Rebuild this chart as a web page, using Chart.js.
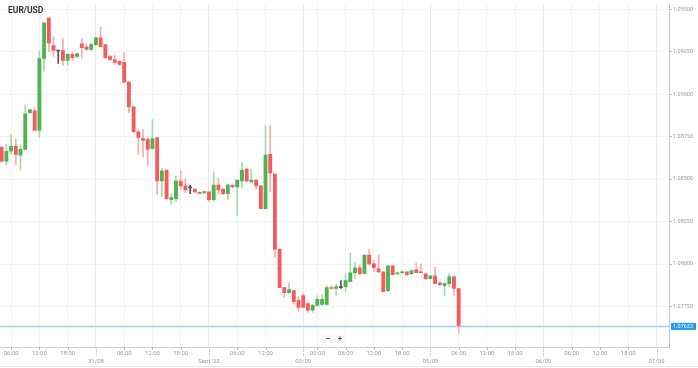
<!DOCTYPE html>
<html><head><meta charset="utf-8">
<script src="https://cdn.jsdelivr.net/npm/chart.js@4.4.0/dist/chart.umd.min.js"></script>
<style>html,body{margin:0;padding:0;background:#fff}#wrap{width:698px;height:368px;position:relative}</style>
</head><body><div id="wrap"><canvas id="c"></canvas></div>
<script>
const title = 'EUR/USD';
// trading sessions: [day, first hour, last hour] (hourly candles, weekend removed)
const sessions = [['30/08',4,23],['31/08',0,23],['01/09',0,19],['03/09',21,23],['04/09',0,23],['05/09',0,23],['06/09',0,23],['07/09',0,1]];
const open = [
1.08687,1.08606,1.08664,1.08693,1.08641,1.08675,1.08891,1.08902,1.08786,1.09210,
1.09448,1.09286,1.09254,1.09257,1.09199,1.09234,1.09222,1.09297,1.09279,1.09263,
1.09292,1.09331,1.09292,1.09222,1.09204,1.09193,1.09187,1.09071,1.08925,1.08779,
1.08739,1.08734,1.08681,1.08745,1.08489,1.08553,1.08379,1.08385,1.08489,1.08460,
1.08448,1.08442,1.08422,1.08419,1.08425,1.08379,1.08465,1.08442,1.08414,1.08465,
1.08454,1.08489,1.08559,1.08483,1.08495,1.08460,1.08326,1.08646,1.08529,1.08088,
1.07861,1.07832,1.07844,1.07786,1.07815,1.07768,1.07728,1.07757,1.07763,1.07763,
1.07861,1.07856,1.07861,1.07867,1.07896,1.07949,1.07978,1.07943,1.08053,1.08001,
1.07972,1.07954,1.07844,1.07989,1.07943,1.07949,1.07954,1.07943,1.07966,1.07954,
1.07943,1.07914,1.07931,1.07890,1.07873,1.07885,1.07925,1.07856];
const high = [
1.08693,1.08704,1.08763,1.08734,1.08704,1.08937,1.08914,1.08920,1.09257,1.09424,
1.09448,1.09337,1.09257,1.09326,1.09239,1.09245,1.09239,1.09326,1.09297,1.09302,
1.09337,1.09395,1.09292,1.09228,1.09228,1.09199,1.09245,1.09071,1.08931,1.08792,
1.08792,1.08745,1.08850,1.08745,1.08565,1.08553,1.08414,1.08518,1.08547,1.08501,
1.08465,1.08442,1.08425,1.08430,1.08425,1.08542,1.08507,1.08442,1.08471,1.08465,
1.08495,1.08600,1.08565,1.08559,1.08495,1.08460,1.08815,1.08815,1.08529,1.08088,
1.07861,1.07890,1.07844,1.07809,1.07827,1.07773,1.07763,1.07815,1.07821,1.07873,
1.07873,1.07879,1.07902,1.07943,1.08065,1.08012,1.07995,1.08053,1.08088,1.08024,
1.08053,1.07954,1.07989,1.07989,1.07954,1.07960,1.07954,1.07966,1.08007,1.08001,
1.07943,1.07931,1.07983,1.07890,1.07890,1.07943,1.07931,1.07856];
const low = [
1.08600,1.08582,1.08646,1.08582,1.08553,1.08670,1.08885,1.08786,1.08745,1.09135,
1.09251,1.09222,1.09181,1.09170,1.09170,1.09199,1.09215,1.09210,1.09257,1.09257,
1.09286,1.09279,1.09210,1.09199,1.09175,1.09170,1.09065,1.08891,1.08774,1.08646,
1.08629,1.08582,1.08675,1.08408,1.08396,1.08379,1.08350,1.08367,1.08442,1.08419,
1.08414,1.08419,1.08414,1.08416,1.08367,1.08373,1.08414,1.08408,1.08379,1.08448,
1.08286,1.08448,1.08483,1.08477,1.08442,1.08326,1.08326,1.08425,1.08041,1.07861,
1.07803,1.07827,1.07763,1.07722,1.07745,1.07716,1.07716,1.07751,1.07757,1.07757,
1.07850,1.07815,1.07856,1.07838,1.07896,1.07914,1.07937,1.07943,1.07995,1.07954,
1.07949,1.07838,1.07838,1.07937,1.07937,1.07943,1.07931,1.07937,1.07949,1.07949,
1.07908,1.07914,1.07885,1.07873,1.07815,1.07867,1.07815,1.07593];
const close = [
1.08606,1.08664,1.08693,1.08646,1.08675,1.08885,1.08908,1.08786,1.09210,1.09419,
1.09302,1.09257,1.09254,1.09199,1.09234,1.09215,1.09239,1.09274,1.09263,1.09292,
1.09331,1.09279,1.09215,1.09204,1.09187,1.09175,1.09071,1.08925,1.08779,1.08745,
1.08728,1.08675,1.08739,1.08489,1.08547,1.08385,1.08391,1.08489,1.08460,1.08436,
1.08448,1.08425,1.08416,1.08427,1.08379,1.08465,1.08436,1.08414,1.08465,1.08454,
1.08495,1.08553,1.08489,1.08495,1.08460,1.08326,1.08641,1.08536,1.08088,1.07861,
1.07832,1.07850,1.07779,1.07745,1.07745,1.07728,1.07757,1.07792,1.07792,1.07861,
1.07856,1.07867,1.07861,1.07902,1.07949,1.07978,1.07943,1.08053,1.08001,1.07978,
1.07954,1.07838,1.07989,1.07937,1.07949,1.07954,1.07937,1.07960,1.07949,1.07949,
1.07914,1.07931,1.07885,1.07879,1.07885,1.07925,1.07856,1.07633];
const yTicks = [1.0775,1.0800,1.0825,1.0850,1.0875,1.0900,1.0925,1.0950];
// [slot, time label, date label]
const xTicks = [
 ['30/08 06:00','06:00',''],['30/08 12:00','12:00',''],['30/08 18:00','18:00',''],
 ['31/08 00:00','','31/08'],['31/08 06:00','06:00',''],['31/08 12:00','12:00',''],['31/08 18:00','18:00',''],
 ['01/09 00:00','',"Sept '23"],['01/09 06:00','06:00',''],['01/09 12:00','12:00',''],
 ['03/09 21:00','','03/09'],['04/09 00:00','00:00',''],['04/09 06:00','06:00',''],['04/09 12:00','12:00',''],['04/09 18:00','18:00',''],
 ['05/09 00:00','','05/09'],['05/09 06:00','06:00',''],['05/09 12:00','12:00',''],['05/09 18:00','18:00',''],
 ['06/09 00:00','','06/09'],['06/09 06:00','06:00',''],['06/09 12:00','12:00',''],['06/09 18:00','18:00',''],
 ['07/09 00:00','','07/09']
];

const slots = [];
sessions.forEach(([d,a,b]) => { for (let h=a; h<=b; h++) slots.push(d+' '+String(h).padStart(2,'0')+':00'); });
const tickMap = {};
xTicks.forEach(t => { tickMap[slots.indexOf(t[0])] = t; });

const UP='#52b152', DOWN='#f25c5c', DOJI='#555555', UPW='#a8d8a8', DOWNW='#f7adad';
const bodyCol = open.map((o,i)=> close[i]>o?UP:(close[i]<o?DOWN:DOJI));
const wickCol = open.map((o,i)=> close[i]>o?UPW:(close[i]<o?DOWNW:DOJI));

const font = "Roboto, 'DejaVu Sans', sans-serif";
const plotRightPx = 669, plotBottomPx = 347;

const overlay = {
  id:'overlay',
  afterDatasetsDraw(chart){
    const {ctx, chartArea:a, scales:{y}} = chart;
    const py = y.getPixelForValue(close[close.length-1]);
    ctx.save();
    ctx.strokeStyle='#9ccff5'; ctx.lineWidth=1.5;
    ctx.beginPath(); ctx.moveTo(a.left,py); ctx.lineTo(a.right,py); ctx.stroke();
    ctx.restore();
  },
  afterDraw(chart){
    const {ctx, chartArea:a, scales:{x,y}} = chart;
    ctx.save();
    // title
    ctx.fillStyle='#333'; ctx.font="bold 8.5px "+font; ctx.textBaseline='middle'; ctx.textAlign='left';
    ctx.fillText(title, 8, 11);
    // x tick marks
    ctx.strokeStyle='#b8b8b8'; ctx.lineWidth=1;
    Object.keys(tickMap).forEach(k=>{
      const t = tickMap[k]; const px = Math.round(x.getPixelForValue(+k))+0.5;
      ctx.beginPath();
      if (t[2]) { ctx.setLineDash([1,1]); ctx.moveTo(px,a.bottom); ctx.lineTo(px,a.bottom+10); }
      else { ctx.setLineDash([]); ctx.moveTo(px,a.bottom); ctx.lineTo(px,a.bottom+3); }
      ctx.stroke();
    });
    ctx.setLineDash([]);
    // price label
    const last = close[close.length-1];
    const py = y.getPixelForValue(last);
    ctx.fillStyle='#2196f3';
    ctx.fillRect(a.right+2, py-3.5, 25, 7);
    ctx.fillStyle='#fff'; ctx.font="5.5px "+font; ctx.textAlign='left'; ctx.textBaseline='middle';
    ctx.fillText(last.toFixed(5), a.right+4, py+0.3);
    // zoom control
    ctx.fillStyle='#fafafa'; ctx.fillRect(321,334,26,9);
    ctx.fillStyle='#555'; ctx.font="bold 8px "+font; ctx.textAlign='center';
    ctx.fillText('\u2212', 328, 338.5); ctx.fillText('+', 340, 338.5);
    // bottom border
    ctx.strokeStyle='#e6e6e6'; ctx.beginPath(); ctx.moveTo(0,366.5); ctx.lineTo(698,366.5); ctx.stroke();
    ctx.restore();
  }
};

new Chart(document.getElementById('c'), {
  type:'bar',
  data:{
    datasets:[
      { label:'body', order:0, data: open.map((o,i)=>({x:i, y:[o, close[i]]})),
        backgroundColor: bodyCol, barThickness:3.2, minBarLength:1, grouped:false, borderWidth:0 },
      { label:'wick', order:1, data: open.map((o,i)=>({x:i, y:[low[i], high[i]]})),
        backgroundColor: wickCol, barThickness:1, minBarLength:1, grouped:false, borderWidth:0 }
    ]
  },
  options:{
    responsive:true, maintainAspectRatio:false, animation:false,
    layout:{padding:0},
    plugins:{legend:{display:false}, tooltip:{enabled:false}},
    scales:{
      x:{ type:'linear', position:'bottom', offset:false, min:-0.36, max:141.65,
        afterBuildTicks: s => { s.ticks = Object.keys(tickMap).map(k=>({value:+k})); },
        afterFit: s => { s.height = 368 - plotBottomPx; },
        ticks:{ autoSkip:false, maxRotation:0, padding:3, color:'#9a9a9a',
          font:{family:font, size:6, lineHeight:1.3},
          callback: v => { const t = tickMap[v]; if (!t) return ''; return t[2] ? ['', t[2]] : t[1]; } },
        grid:{ offset:false, drawTicks:false,
          color: c => (c.tick && tickMap[c.tick.value] && tickMap[c.tick.value][2]) ? '#e8e8e8' : '#f3f3f3' },
        border:{display:true, color:'#cfcfcf'}
      },
      y:{ type:'linear', position:'right', beginAtZero:false, min:1.075117, max:1.095291,
        afterBuildTicks: s => { s.ticks = yTicks.map(v=>({value:v})); },
        afterFit: s => { s.width = 698 - plotRightPx; },
        ticks:{ padding:1, color:'#9a9a9a', font:{family:font, size:5.5},
          callback: v => v.toFixed(5) },
        grid:{ color:'#f2f2f2', tickLength:3, tickColor:'#c0c0c0' },
        border:{display:true, color:'#c4c4c4'}
      }
    }
  },
  plugins:[overlay]
});
</script></body></html>
